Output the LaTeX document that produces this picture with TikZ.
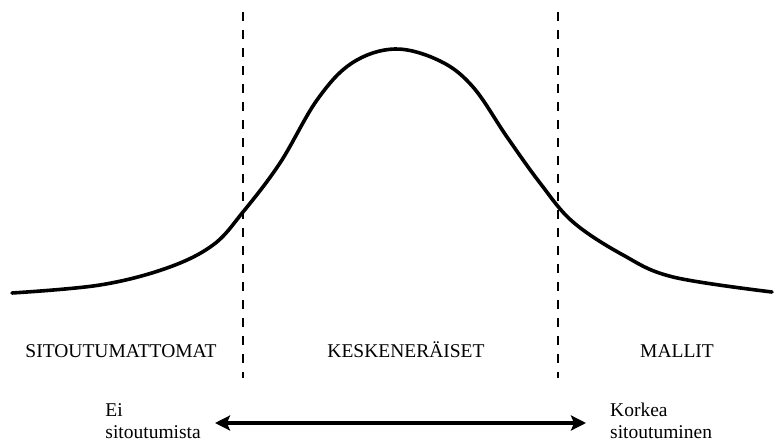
\documentclass[tikz,border=0pt]{standalone}
\usepackage{fontspec}
\setmainfont{Liberation Serif}
\usetikzlibrary{arrows.meta,positioning}

\begin{document}
\begin{tikzpicture}[
    x=1pt, y=-1pt,
    lbl/.style={inner sep=0pt, font=\fontsize{19.5}{22}\selectfont},
    divider/.style={line width=2pt, dash pattern=on 9pt off 9pt},
    bell/.style={line width=3.6pt, line cap=round},
    scale2/.style={line width=3.8pt, {Stealth[length=15pt,width=15pt,inset=3pt]}-{Stealth[length=15pt,width=15pt,inset=3pt]}}
]
    \useasboundingbox (0,0) rectangle (778,443);

    % Dividers
    \coordinate (d1top) at (243,12);
    \coordinate (d1bot) at (243,378);
    \coordinate (d2top) at (558,12);
    \coordinate (d2bot) at (558,378);
    \draw[divider] (d1top) -- (d1bot);
    \draw[divider] (d2top) -- (d2bot);

    % Bell curve
    \draw[bell] plot[smooth, tension=0.6] coordinates {
        (12,293) (100,285) (167,268) (213,245) (243,212)
        (280,163) (317,100) (352,63) (395,49)
        (440,61) (473,87) (507,137) (540,183) (573,222)
        (623,255) (673,277) (772,292)};

    % Groups
    \node[lbl, anchor=base] (sitout) at (121,357) {SITOUTUMATTOMAT};
    \node[lbl, anchor=base] (kesken) at (406,357) {KESKENERÄISET};
    \node[lbl, anchor=base] (mallit) at (677,357) {MALLIT};

    % Commitment scale
    \coordinate (lo) at (215,423);
    \coordinate (hi) at (586,423);
    \draw[scale2] (lo) -- (hi);
    \node[lbl, align=left, left=14pt of lo, yshift=2pt] (eisit) {Ei\\sitoutumista};
    \node[lbl, align=left, right=24pt of hi, yshift=2pt] (korkea) {Korkea\\sitoutuminen};
\end{tikzpicture}
\end{document}
